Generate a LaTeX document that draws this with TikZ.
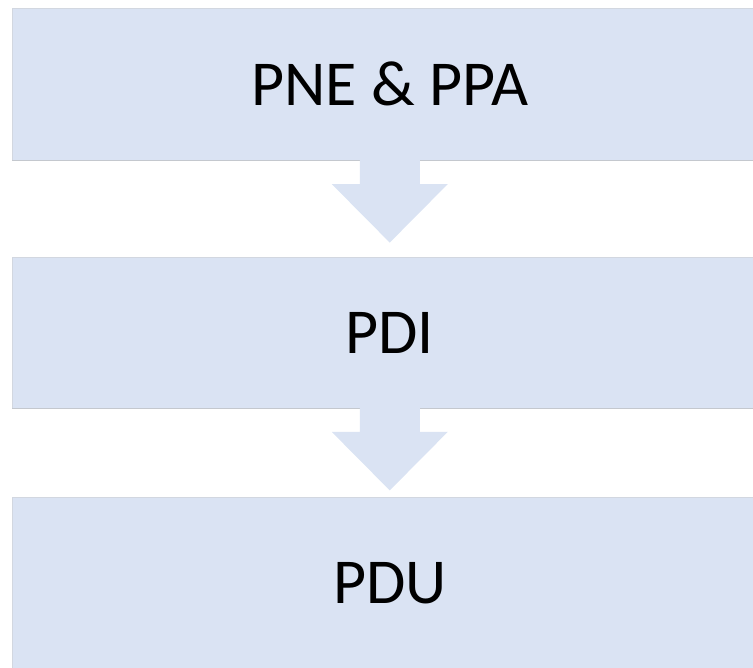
\documentclass[tikz,border=0pt]{standalone}
\usepackage{fontspec}
\setmainfont{Carlito}
\usepackage{xcolor}
\usepackage{tikz}
\usetikzlibrary{calc,positioning}
\definecolor{boxfill}{HTML}{DAE3F3}
\definecolor{boxedge}{HTML}{D2D7E0}
\definecolor{boxshade}{HTML}{C4C8CE}
\definecolor{ink}{HTML}{000000}
\tikzset{
  stagebox/.style={rectangle, fill=boxfill, draw=boxedge, line width=0.8pt,
    minimum width=754.5pt, text=ink, font=\fontsize{64}{77}\selectfont},
  shade/.style={draw=boxshade, line width=1pt},
  flowarrow/.style={fill=boxfill},
}
\begin{document}
\begin{tikzpicture}[x=1pt, y=1pt]
  \useasboundingbox (0,0) rectangle (753,-668);

  % three stages
  \node[stagebox, minimum height=152pt] (pne) at (389.75,-84.2) {PNE \& PPA};
  \node[stagebox, minimum height=151pt] (pdi) at (389.75,-332.5) {PDI};
  \node[stagebox, minimum height=172pt] (pdu) at (389.75,-583) {PDU};

  % bottom shading of the upper stages
  \draw[shade] (pne.south west) -- (pne.south east);
  \draw[shade] (pdi.south west) -- (pdi.south east);

  % block arrows between stages
  \foreach \from in {pne, pdi} {
    \fill[flowarrow] ($(\from.south)+(-30,1)$) -- ++(0,-24.5) -- ++(-28,0)
      -- ($(\from.south)+(0,-82)$) -- ++(58,58.5) -- ++(-28,0) -- ++(0,24.5) -- cycle;
  }
\end{tikzpicture}
\end{document}
